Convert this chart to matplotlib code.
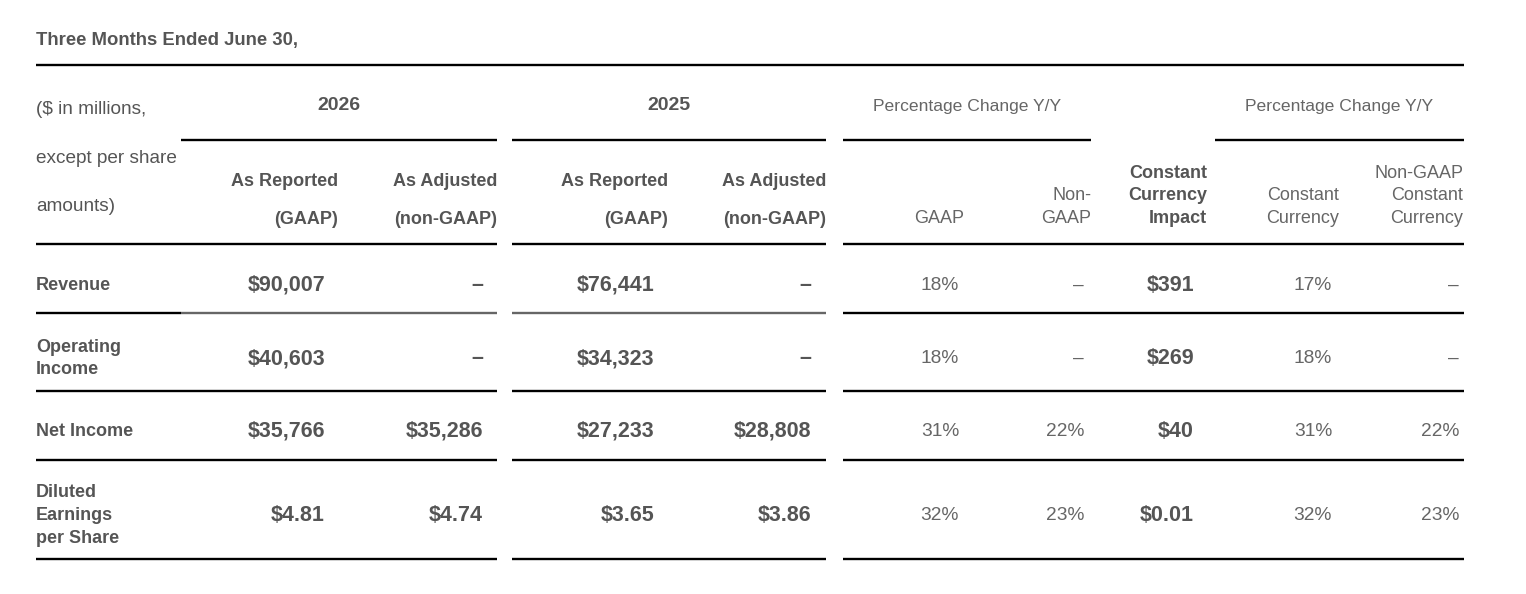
import matplotlib
matplotlib.use("Agg")
import matplotlib.pyplot as plt

plt.rcParams['font.family'] = ['Liberation Sans', 'DejaVu Sans']

# ---------------- data ----------------
title = "Three Months Ended June 30,"
stub_header = ["($ in millions,", "except per share", "amounts)"]
group_labels = ["2026", "2025", "Percentage Change Y/Y", "Percentage Change Y/Y"]
column_headers = [
    ["As Reported", "(GAAP)"],
    ["As Adjusted", "(non-GAAP)"],
    ["As Reported", "(GAAP)"],
    ["As Adjusted", "(non-GAAP)"],
    ["GAAP"],
    ["Non-", "GAAP"],
    ["Constant", "Currency", "Impact"],
    ["Constant", "Currency"],
    ["Non-GAAP", "Constant", "Currency"],
]
row_labels = [["Revenue"], ["Operating", "Income"], ["Net Income"],
              ["Diluted", "Earnings", "per Share"]]

reported_2026 = ["$90,007", "$40,603", "$35,766", "$4.81"]
adjusted_2026 = ["–", "–", "$35,286", "$4.74"]
reported_2025 = ["$76,441", "$34,323", "$27,233", "$3.65"]
adjusted_2025 = ["–", "–", "$28,808", "$3.86"]
pct_gaap = ["18%", "18%", "31%", "32%"]
pct_non_gaap = ["–", "–", "22%", "23%"]
cc_impact = ["$391", "$269", "$40", "$0.01"]
pct_cc = ["17%", "18%", "31%", "32%"]
pct_non_gaap_cc = ["–", "–", "22%", "23%"]

columns = [reported_2026, adjusted_2026, reported_2025, adjusted_2025,
           pct_gaap, pct_non_gaap, cc_impact, pct_cc, pct_non_gaap_cc]

# ---------------- layout ----------------
W, H = 1526, 594
fig = plt.figure(figsize=(W / 100, H / 100), dpi=100)
ax = fig.add_axes([0, 0, 1, 1])
ax.set_xlim(0, W)
ax.set_ylim(H, 0)
ax.axis('off')

DARK = "#555555"
LIGHT = "#666666"
LW = 1.7
DY = 1.5  # text vertical nudge

header_right = [338, 497, 668, 826, 964, 1091, 1207, 1339, 1463]
value_right = [325, 483, 654, 811, 959, 1084, 1194, 1332, 1459]
bold_cols = {0, 1, 2, 3, 6}
group_centers = [339, 669, 967, 1339]
group_segments = [(181, 497), (512, 826), (843, 1091), (1215, 1464)]
table_segments = [(36, 497), (512, 826), (843, 1464)]
row_y = [284, 357, 430, 514]
row_line_y = [313, 391, 460, 559]
left = 36


def hline(y, x0, x1, color="black"):
    ax.plot([x0, x1], [y, y], color=color, lw=LW, solid_capstyle='butt')


def txt(x, y, s, **kw):
    ax.text(x, y + DY, s, va='center', **kw)


def lines_text(x, yc, lines, pitch, **kw):
    n = len(lines)
    for i, s in enumerate(lines):
        y = yc + (i - (n - 1) / 2) * pitch
        txt(x, y, s, **kw)


# title
txt(left, 39, title, fontsize=13.3, fontweight='bold', color=DARK, ha='left')
hline(65, 36, 1464)

# stub header
for s, y in zip(stub_header, [108, 157, 205]):
    txt(left, y, s, fontsize=13.7, color=DARK, ha='left')

# group headers
for i, (lab, cx) in enumerate(zip(group_labels, group_centers)):
    if i < 2:
        txt(cx, 104, lab, fontsize=14, fontweight='bold', color=DARK,
            ha='center')
    else:
        txt(cx, 105, lab, fontsize=12.6, color=LIGHT, ha='center')
for x0, x1 in group_segments:
    hline(140, x0, x1)

# column headers
for j, hdr in enumerate(column_headers):
    if j < 4:
        pitch, bottom = 38, 218
        kw = dict(fontsize=13, fontweight='bold', color=DARK)
    else:
        pitch, bottom = 22.5, 217
        if j == 6:
            kw = dict(fontsize=13, fontweight='bold', color=DARK)
        else:
            kw = dict(fontsize=13, color=LIGHT)
    n = len(hdr)
    for i, s in enumerate(hdr):
        y = bottom - (n - 1 - i) * pitch
        txt(header_right[j], y, s, ha='right', **kw)

for x0, x1 in table_segments:
    hline(244, x0, x1)

# rows
for r, lab in enumerate(row_labels):
    lines_text(left, row_y[r], lab, 23, fontsize=13, fontweight='bold',
               color=DARK, ha='left')
    for j, col in enumerate(columns):
        val = col[r]
        if j in bold_cols:
            txt(value_right[j], row_y[r], val, fontsize=15.5,
                fontweight='bold', color=DARK, ha='right')
        else:
            txt(value_right[j], row_y[r], val, fontsize=13.8,
                color=LIGHT, ha='right')

# row rules
for r, y in enumerate(row_line_y):
    if r == 0:
        hline(y, 36, 181)
        hline(y, 181, 497, color="#666666")
        hline(y, 512, 826, color="#666666")
        hline(y, 843, 1464)
    else:
        for x0, x1 in table_segments:
            hline(y, x0, x1)

fig.savefig("out.png", dpi=100, facecolor="white")
